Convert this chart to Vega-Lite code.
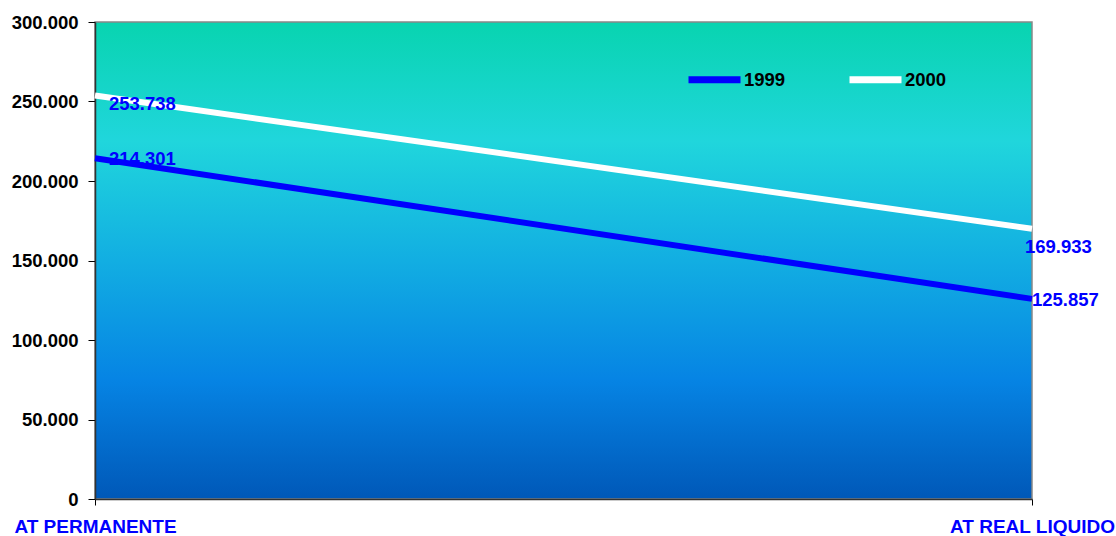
{
  "$schema": "https://vega.github.io/schema/vega-lite/v6.json",
  "width": 937,
  "height": 477,
  "autosize": {"type": "none"},
  "padding": {"left": 95, "top": 22, "right": 84, "bottom": 37},
  "background": "white",
  "config": {
    "locale": {"number": {"decimal": ",", "thousands": ".", "grouping": [3], "currency": ["", ""]}},
    "view": {
      "stroke": "#888888",
      "strokeWidth": 1.5,
      "fill": {
        "gradient": "linear",
        "x1": 0, "y1": 0, "x2": 0, "y2": 1,
        "stops": [
          {"offset": 0, "color": "#08D4B0"},
          {"offset": 0.25, "color": "#20D6DC"},
          {"offset": 0.5, "color": "#12AEE2"},
          {"offset": 0.75, "color": "#0684E4"},
          {"offset": 1, "color": "#0058B8"}
        ]
      }
    },
    "font": "Liberation Sans"
  },
  "data": {
    "values": [
      {"cat": "AT PERMANENTE", "pos": "start", "year": "1999", "value": 214301},
      {"cat": "AT REAL LIQUIDO", "pos": "end", "year": "1999", "value": 125857},
      {"cat": "AT PERMANENTE", "pos": "start", "year": "2000", "value": 253738},
      {"cat": "AT REAL LIQUIDO", "pos": "end", "year": "2000", "value": 169933}
    ]
  },
  "encoding": {
    "x": {
      "field": "cat",
      "type": "nominal",
      "sort": ["AT PERMANENTE", "AT REAL LIQUIDO"],
      "scale": {"type": "point", "padding": 0},
      "axis": {
        "title": null,
        "labelAngle": 0,
        "labelColor": "#0000FF",
        "labelFont": "Liberation Sans",
        "labelFontWeight": "bold",
        "labelFontSize": 19,
        "labelPadding": 12,
        "labelLimit": 300,
        "tickSize": 6,
        "tickColor": "#000000",
        "domainColor": "#333333",
        "domainWidth": 1.5,
        "grid": false
      }
    },
    "y": {
      "field": "value",
      "type": "quantitative",
      "scale": {"domain": [0, 300000], "nice": false},
      "axis": {
        "title": null,
        "values": [0, 50000, 100000, 150000, 200000, 250000, 300000],
        "format": ",d",
        "labelColor": "#000000",
        "labelFont": "Liberation Sans",
        "labelFontWeight": "bold",
        "labelFontSize": 18.5,
        "labelPadding": 10,
        "tickSize": 7,
        "tickColor": "#000000",
        "domainColor": "#333333",
        "domainWidth": 1.5,
        "grid": false
      }
    }
  },
  "layer": [
    {
      "mark": {"type": "line", "strokeWidth": 6, "strokeCap": "butt"},
      "encoding": {
        "color": {
          "field": "year",
          "type": "nominal",
          "scale": {"domain": ["1999", "2000"], "range": ["#0000FF", "#FFFFFF"]},
          "legend": {
            "title": null,
            "orient": "none",
            "legendX": 590,
            "legendY": 28,
            "direction": "horizontal",
            "symbolType": "stroke",
            "symbolSize": 2704,
            "symbolStrokeWidth": 7,
            "labelFont": "Liberation Sans",
            "labelFontWeight": "bold",
            "labelFontSize": 18.5,
            "labelColor": "#000000",
            "labelOffset": 0,
            "columnPadding": 49
          }
        }
      }
    },
    {
      "transform": [{"filter": "datum.pos === 'start' && datum.year === '1999'"}],
      "mark": {"type": "text", "align": "left", "baseline": "middle", "dx": 14, "dy": 1, "fontWeight": "bold", "fontSize": 18.5, "color": "#0000FF"},
      "encoding": {"text": {"field": "value", "type": "quantitative", "format": ",d"}}
    },
    {
      "transform": [{"filter": "datum.pos === 'start' && datum.year === '2000'"}],
      "mark": {"type": "text", "align": "left", "baseline": "middle", "dx": 14, "dy": 8, "fontWeight": "bold", "fontSize": 18.5, "color": "#0000FF"},
      "encoding": {"text": {"field": "value", "type": "quantitative", "format": ",d"}}
    },
    {
      "transform": [{"filter": "datum.pos === 'end' && datum.year === '1999'"}],
      "mark": {"type": "text", "align": "left", "baseline": "middle", "dx": 0, "dy": 1, "fontWeight": "bold", "fontSize": 18.5, "color": "#0000FF"},
      "encoding": {"text": {"field": "value", "type": "quantitative", "format": ",d"}}
    },
    {
      "transform": [{"filter": "datum.pos === 'end' && datum.year === '2000'"}],
      "mark": {"type": "text", "align": "left", "baseline": "middle", "dx": -7, "dy": 18, "fontWeight": "bold", "fontSize": 18.5, "color": "#0000FF"},
      "encoding": {"text": {"field": "value", "type": "quantitative", "format": ",d"}}
    }
  ]
}
